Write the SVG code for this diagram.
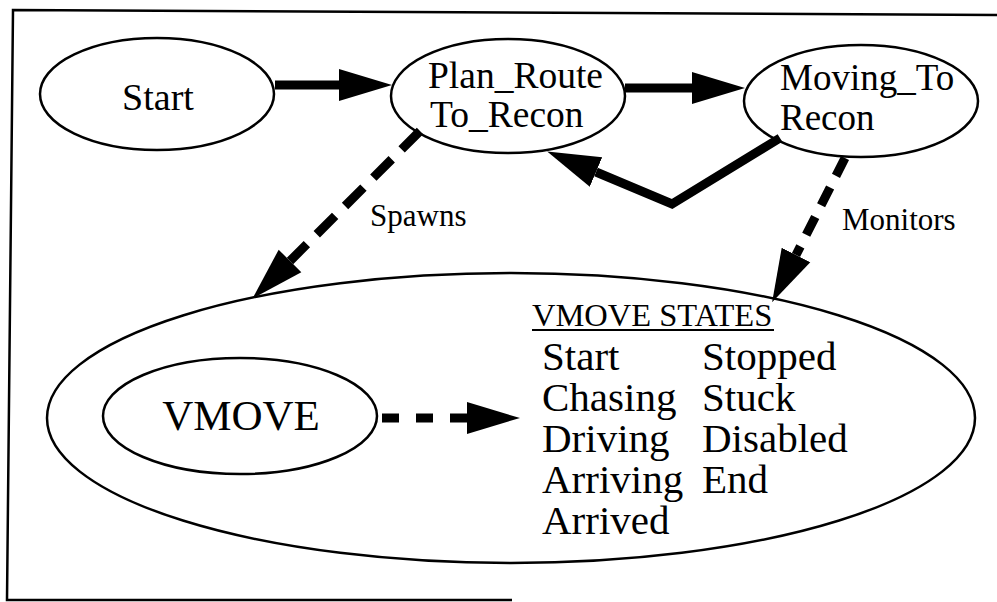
<svg xmlns="http://www.w3.org/2000/svg" width="997" height="602" viewBox="0 0 997 602">
<style>
.node{fill:#fff;stroke:#000;stroke-width:2.5}
.t{font-family:"Liberation Serif","Times New Roman",serif;fill:#000}
.solid{fill:none;stroke:#000;stroke-width:9;stroke-linejoin:miter}
.dash{fill:none;stroke:#000;stroke-width:9}
.frame{fill:none;stroke:#000;stroke-width:2.5}
</style>
<defs>
<marker id="ah" viewBox="0 -20 60 40" markerWidth="60" markerHeight="40" refX="0" refY="0" orient="auto" markerUnits="userSpaceOnUse">
<path d="M0,-16 L53,0 L0,16 Z" fill="#000"/>
</marker>
</defs>
<rect width="997" height="602" fill="#fff"/>
<g id="frame">
<path class="frame" d="M997,15 L13,10 L7,600 L512,600"/>
</g>
<g id="vmove-states-container">
<ellipse class="node" cx="511" cy="418" rx="464" ry="145"/>
<text class="t" x="532" y="326" font-size="32.5">VMOVE STATES</text>
<line x1="532" y1="330" x2="774" y2="330" stroke="#000" stroke-width="1.8"/>
<g font-size="41" class="t">
<text class="t" x="542" y="370">Start</text>
<text class="t" x="542" y="411">Chasing</text>
<text class="t" x="542" y="452">Driving</text>
<text class="t" x="542" y="493">Arriving</text>
<text class="t" x="542" y="534">Arrived</text>
<text class="t" x="702" y="370">Stopped</text>
<text class="t" x="702" y="411">Stuck</text>
<text class="t" x="702" y="452">Disabled</text>
<text class="t" x="702" y="493">End</text>
</g>
</g>
<g id="start">
<ellipse class="node" cx="157" cy="94" rx="117" ry="56"/>
<text class="t" x="158" y="110" font-size="38" text-anchor="middle">Start</text>
</g>
<g id="plan-route">
<ellipse class="node" cx="508" cy="96" rx="117" ry="57"/>
<text class="t" x="428" y="88" font-size="37.5">Plan_Route</text>
<text class="t" x="430" y="127" font-size="37.5">To_Recon</text>
</g>
<g id="moving-to">
<ellipse class="node" cx="861" cy="101" rx="117" ry="56"/>
<text class="t" x="780" y="90" font-size="37">Moving_To</text>
<text class="t" x="780" y="130" font-size="37">Recon</text>
</g>
<g id="vmove">
<ellipse class="node" cx="240" cy="416" rx="137" ry="58"/>
<text class="t" x="241" y="430" font-size="43" text-anchor="middle">VMOVE</text>
</g>
<g id="connectors">
<line class="solid" x1="275" y1="85" x2="339" y2="85" marker-end="url(#ah)"/>
<line class="solid" x1="625" y1="88" x2="692" y2="88" marker-end="url(#ah)"/>
<path class="solid" d="M780,138 L672,204 L596,172" marker-end="url(#ah)"/>
<line class="dash" x1="420" y1="131" x2="290" y2="261" stroke-dasharray="26 14" marker-end="url(#ah)"/>
<line class="dash" x1="845" y1="158" x2="796" y2="255" stroke-dasharray="20 13" marker-end="url(#ah)"/>
<line class="dash" x1="382" y1="418" x2="467" y2="418" stroke-dasharray="17 17" marker-end="url(#ah)"/>
<text class="t" x="370" y="226" font-size="31">Spawns</text>
<text class="t" x="842" y="230" font-size="31">Monitors</text>
</g>
</svg>
